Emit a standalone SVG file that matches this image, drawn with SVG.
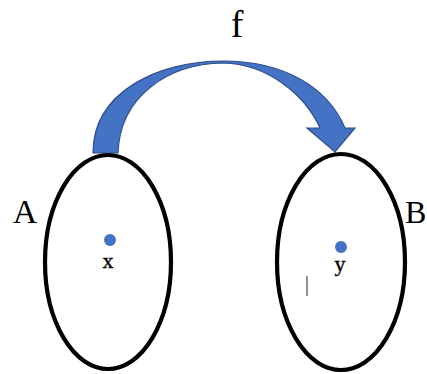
<svg xmlns="http://www.w3.org/2000/svg" width="427" height="374" viewBox="0 0 427 374">
<style>
.set{fill:none;stroke:#000;stroke-width:4.2}
.pt{fill:#4472C4}
.lbl{font-family:"Liberation Serif",serif;fill:#000}
</style>
<rect width="427" height="374" fill="#fff"/>
<g id="connectors">
<path d="M93 153 C93 92 158 61 223 61 C285 61 328 88 345 128 L355 128 L335 152 L307 128 L320 128 C305 95 268 64 223 63 C168 64 120 96 118 153 Z" fill="#4472C4" stroke="#2F4F8A" stroke-width="1.2"/>
<text class="lbl" x="237" y="37" font-size="38" text-anchor="middle">f</text>
</g>
<g id="A">
<ellipse class="set" cx="108" cy="262" rx="63" ry="107"/>
<text class="lbl" x="25" y="223" font-size="34" text-anchor="middle">A</text>
<circle class="pt" cx="110" cy="240" r="6"/>
<text class="lbl" x="108" y="268" font-size="22" text-anchor="middle" stroke="#000" stroke-width="0.4">x</text>
</g>
<g id="B">
<ellipse class="set" cx="341" cy="262" rx="64" ry="108"/>
<text class="lbl" x="405" y="223" font-size="32">B</text>
<circle class="pt" cx="341" cy="247" r="6"/>
<text class="lbl" x="340" y="271" font-size="22" text-anchor="middle" stroke="#000" stroke-width="0.4">y</text>
<line x1="307" y1="276" x2="307" y2="296" stroke="#555" stroke-width="1.3"/>
</g>
</svg>
